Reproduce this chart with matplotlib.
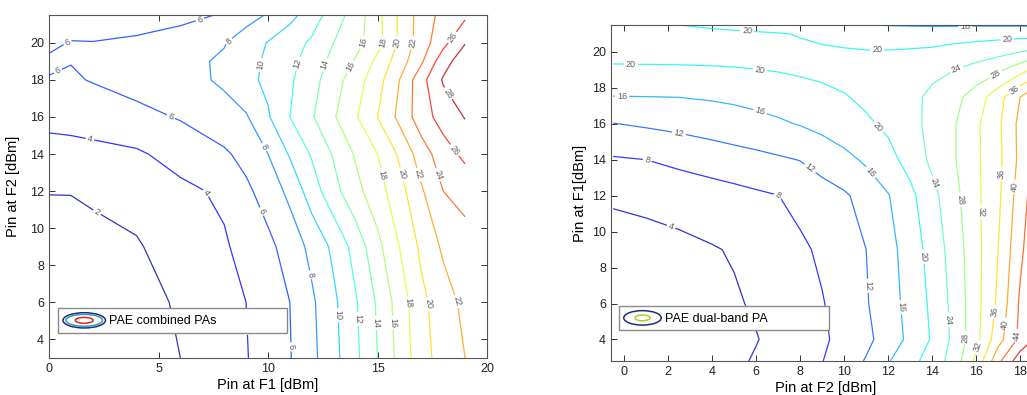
import numpy as np
import matplotlib
matplotlib.use('Agg')
import matplotlib.pyplot as plt
from matplotlib.lines import Line2D
from matplotlib.patches import Ellipse
from matplotlib.legend_handler import HandlerBase

plt.rcParams['font.family'] = ['Liberation Sans', 'DejaVu Sans']

# PAE of the two combined PAs, Pin at F1 (columns) vs Pin at F2 (rows)
f1_in = [0, 1, 2, 4, 6, 8, 9, 10, 11, 12, 13, 14, 15, 16, 17, 18, 19]
f2_in = [3, 6, 9, 12, 14, 16, 18, 19, 20, 21.5]
pae_combined = [
    [0.8, 0.9, 1.1, 1.5, 2.0, 3.25, 3.9, 4.84, 5.9, 7.5, 9.4, 11.56, 14.0, 16.6, 19.25, 20.8, 22.0],
    [1.0, 1.1, 1.3, 1.65, 2.12, 3.4, 4.0, 5.0, 6.0, 7.67, 9.6, 11.8, 14.25, 16.9, 19.5, 21.1, 22.5],
    [1.3, 1.4, 1.6, 1.85, 2.78, 3.8, 4.57, 5.52, 6.83, 8.55, 10.44, 12.75, 15.43, 18.0, 20.4, 22.33, 23.3],
    [2.05, 2.05, 2.2, 2.6, 3.6, 4.3, 5.6, 6.86, 8.5, 11.0, 13.33, 15.4, 17.17, 19.25, 21.75, 24.0, 24.6],
    [3.2, 3.25, 3.4, 3.75, 4.68, 5.7, 6.62, 8.0, 10.2, 12.2, 14.2, 16.2, 18.0, 20.3, 23.0, 25.1, 26.5],
    [4.6, 4.75, 4.95, 5.4, 6.15, 7.3, 7.8, 9.8, 12.0, 13.8, 15.8, 17.8, 20.0, 22.5, 25.1, 26.8, 28.1],
    [5.9, 5.8, 6.1, 6.8, 7.3, 8.3, 9.5, 10.4, 11.7, 13.3, 15.1, 17.1, 19.2, 22.0, 25.3, 28.2, 29.0],
    [6.3, 6.05, 6.4, 6.9, 7.5, 8.25, 9.3, 10.35, 11.45, 12.9, 14.6, 16.2, 18.5, 21.0, 23.7, 27.2, 29.2],
    [5.6, 6.1, 6.05, 6.25, 6.8, 7.9, 8.9, 10.1, 11.2, 12.3, 14.0, 15.3, 17.3, 20.3, 23.0, 25.4, 27.9],
    [4.5, 4.8, 5.0, 5.3, 5.5, 6.15, 7.3, 8.15, 9.4, 11.0, 13.0, 14.9, 17.4, 20.3, 22.9, 24.6, 25.6],
]
levels_combined = np.arange(2, 29, 2)

# PAE of the dual-band PA, Pin at F2 (columns) vs Pin at F1 (rows)
f2_in_db = [-0.5, 1, 2.5, 4, 5, 6, 7, 8, 9, 10, 11, 12, 13, 14, 15, 16, 17, 18, 19]
f1_in_db = [2.8, 4, 6, 9, 12, 14, 16, 17.5, 19, 20, 21, 21.5]
pae_dualband = [
    [1.0, 1.4, 1.9, 2.6, 3.3, 4.35, 5.5, 6.7, 7.9, 10.0, 12.3, 15.7, 18.7, 21.8, 25.7, 33.0, 43.0, 50.5, 53.0],
    [1.2, 1.6, 2.1, 2.8, 3.3, 3.85, 4.98, 6.2, 7.45, 9.07, 11.1, 13.7, 17.0, 20.4, 25.0, 30.7, 38.4, 45.0, 50.0],
    [1.5, 1.9, 2.5, 3.2, 3.6, 4.44, 5.56, 6.67, 7.78, 9.64, 11.7, 14.35, 17.3, 20.8, 25.25, 30.6, 36.8, 44.6, 50.0],
    [1.8, 2.3, 3.0, 3.75, 4.3, 5.6, 6.4, 7.3, 8.67, 10.3, 12.0, 14.7, 17.8, 21.6, 25.8, 30.7, 36.0, 43.2, 48.5],
    [4.7, 5.2, 5.7, 6.3, 6.8, 7.4, 7.95, 9.2, 10.35, 11.5, 13.4, 15.8, 19.0, 22.8, 26.8, 31.1, 35.2, 42.0, 48.0],
    [7.6, 8.0, 8.87, 9.8, 10.4, 10.9, 11.5, 12.1, 13.6, 14.9, 16.6, 18.7, 21.45, 24.9, 27.7, 31.3, 34.9, 41.0, 47.6],
    [11.9, 12.5, 13.1, 13.8, 14.3, 14.9, 15.5, 16.2, 17.1, 18.3, 19.4, 20.8, 22.8, 25.1, 27.7, 31.3, 35.2, 41.1, 47.0],
    [15.9, 15.97, 16.05, 16.4, 16.7, 17.1, 17.6, 18.2, 18.9, 19.75, 20.8, 21.8, 23.0, 24.8, 26.8, 29.8, 34.5, 40.0, 45.5],
    [19.5, 19.55, 19.6, 19.7, 19.8, 19.95, 20.2, 20.6, 21.0, 21.4, 21.8, 22.2, 22.6, 23.1, 24.0, 25.5, 27.2, 30.5, 34.0],
    [21.0, 21.0, 21.0, 21.0, 21.0, 21.0, 20.9, 20.7, 20.5, 20.3, 20.15, 20.15, 20.3, 20.5, 21.2, 21.9, 22.8, 24.0, 25.6],
    [21.5, 21.4, 21.2, 20.9, 20.7, 20.5, 20.25, 19.8, 19.3, 19.0, 18.8, 18.7, 18.6, 18.6, 18.6, 18.6, 18.6, 18.6, 18.5],
    [21.5, 20.8, 20.0, 19.4, 19.0, 18.6, 18.2, 17.7, 17.2, 16.7, 16.1, 15.8, 15.6, 15.5, 15.5, 15.6, 15.6, 15.6, 15.5],
]
levels_dualband = np.arange(4, 49, 4)

# where the contour labels go
labels_combined = [(2.3, 11.1), (1.9, 15.0), (7.3, 12.0), (9.1, 4.5), (0.5, 18.2), (1.0, 19.6),
                   (6.9, 21.2), (5.6, 16.1), (9.9, 11.0), (11.1, 3.6), (8.2, 20.1), (10.0, 14.5),
                   (12.0, 7.5), (9.7, 18.8), (13.2, 5.3), (11.3, 18.9), (14.1, 5.1), (12.4, 18.9),
                   (14.9, 4.9), (13.5, 18.9), (15.7, 4.9), (14.5, 20.0), (15.3, 20.0), (16.5, 6.0),
                   (15.3, 12.9), (15.9, 20.0), (17.2, 5.9), (16.1, 12.9), (16.6, 20.0), (18.5, 6.0),
                   (16.9, 12.9), (17.8, 12.9), (18.3, 20.4), (18.5, 14.2), (17.9, 17.0)]
labels_dualband = [(2.2, 10.5), (1.05, 14.0), (7.0, 12.0), (2.5, 15.6), (8.5, 13.6), (11.2, 7.0),
                   (-0.1, 17.5), (6.2, 16.8), (11.4, 13.5), (12.6, 5.8), (0.3, 19.4), (6.2, 19.2),
                   (11.6, 15.9), (13.6, 8.6), (5.6, 21.3), (11.5, 20.05), (17.4, 20.7), (15.5, 21.4),
                   (15.1, 19.05), (14.3, 12.8), (14.8, 5.1), (17.0, 18.5), (15.4, 11.8), (15.6, 4.1),
                   (17.6, 18.1), (16.2, 11.1), (16.2, 3.55), (17.1, 13.2), (17.0, 5.5), (17.7, 12.5),
                   (17.5, 4.8), (17.9, 4.2)]


class EllipseIcon(HandlerBase):
    """legend key drawn as a few nested contour rings"""
    def __init__(self, rings):
        super().__init__()
        self.rings = rings

    def create_artists(self, legend, orig_handle, xdescent, ydescent,
                       width, height, fontsize, trans):
        cx = width / 2 - xdescent
        cy = height / 2 - ydescent
        out = []
        for wf, hf, col in self.rings:
            out.append(Ellipse((cx, cy), width * wf, height * hf, fill=False,
                               edgecolor=col, lw=1.1, transform=trans))
        return out


def style_axes(ax):
    for sp in ax.spines.values():
        sp.set_color('#555555')
        sp.set_linewidth(0.8)
    ax.tick_params(direction='in', length=4, width=0.7, top=True, right=True,
                   labelsize=9, colors='#333333', labelcolor='#222222')


fig = plt.figure(figsize=(10.27, 3.95), dpi=100, facecolor='white')

# left: combined PAs
ax1 = fig.add_axes([49 / 1027, 37 / 395, 438 / 1027, 343 / 395])
Z1 = np.array(pae_combined)
X1, Y1 = np.meshgrid(f1_in, f2_in)
cs1 = ax1.contour(X1, Y1, Z1, levels=levels_combined, cmap='jet',
                  vmin=Z1.min(), vmax=Z1.max(), linewidths=0.9, alpha=0.8)
ax1.clabel(cs1, inline=True, inline_spacing=2, fontsize=6.5, colors='#333333',
           fmt='%d', manual=labels_combined)
ax1.set_xlim(0, 20)
ax1.set_ylim(3, 21.5)
ax1.set_xticks([0, 5, 10, 15, 20])
ax1.set_yticks(np.arange(4, 21, 2))
ax1.set_xlabel('Pin at F1 [dBm]', fontsize=10.5, labelpad=2)
ax1.set_ylabel('Pin at F2 [dBm]', fontsize=10.5, labelpad=7)
style_axes(ax1)
key1 = Line2D([], [], label='PAE combined PAs')
ax1.legend(handles=[key1], loc='lower left', mode='expand',
           bbox_to_anchor=(0.0205, 0.073, 0.523, 0.09), borderaxespad=0,
           fontsize=9, handlelength=3.4, handleheight=1.5, handletextpad=0.3,
           fancybox=False, framealpha=1, edgecolor='#8a8a8a',
           handler_map={key1: EllipseIcon([(1.0, 1.0, '#1d2f7a'),
                                           (0.86, 0.78, '#2b9fb8'),
                                           (0.42, 0.38, '#e02a1c')])})

# right: dual-band PA
ax2 = fig.add_axes([611 / 1027, 34 / 395, 429 / 1027, 336 / 395])
Z2 = np.array(pae_dualband)
X2, Y2 = np.meshgrid(f2_in_db, f1_in_db)
cs2 = ax2.contour(X2, Y2, Z2, levels=levels_dualband, cmap='jet',
                  vmin=Z2.min(), vmax=Z2.max(), linewidths=0.9, alpha=0.8)
ax2.clabel(cs2, inline=True, inline_spacing=2, fontsize=6.5, colors='#333333',
           fmt='%d', manual=labels_dualband)
ax2.set_xlim(-0.6, 18.9)
ax2.set_ylim(2.8, 21.5)
ax2.set_xticks(np.arange(0, 19, 2))
ax2.set_yticks(np.arange(4, 21, 2))
ax2.set_xlabel('Pin at F2 [dBm]', fontsize=10.5, labelpad=2)
ax2.set_ylabel('Pin at F1[dBm]', fontsize=10.5, labelpad=4)
style_axes(ax2)
key2 = Line2D([], [], label='PAE dual-band PA')
ax2.legend(handles=[key2], loc='lower left', mode='expand',
           bbox_to_anchor=(0.018, 0.092, 0.49, 0.084), borderaxespad=0,
           fontsize=9, handlelength=3.0, handleheight=1.4, handletextpad=0.3,
           fancybox=False, framealpha=1, edgecolor='#8a8a8a',
           handler_map={key2: EllipseIcon([(1.0, 1.0, '#1d2f7a'),
                                           (0.4, 0.4, '#a8cf2a')])})

fig.savefig('out.png', dpi=100, facecolor='white')
